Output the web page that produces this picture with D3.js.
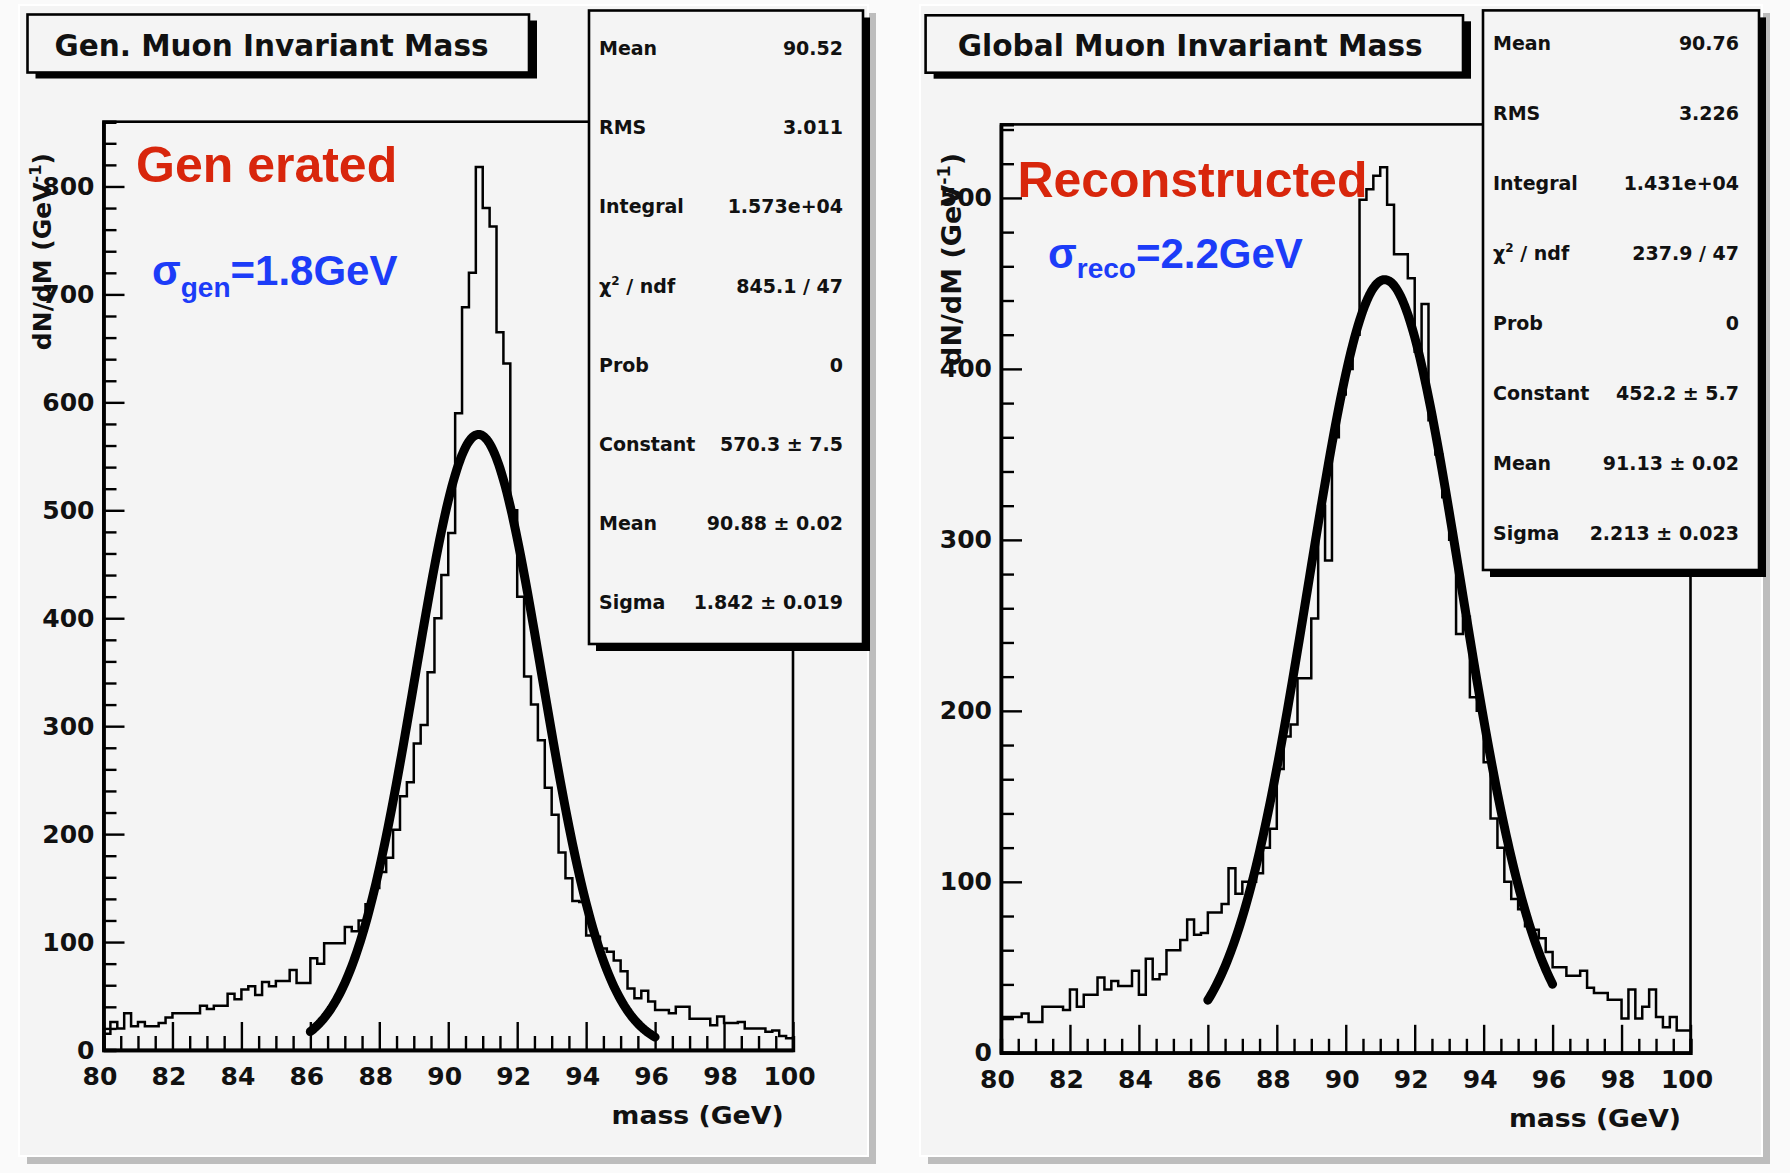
<!DOCTYPE html>
<html>
<head>
<meta charset="utf-8">
<script src="https://cdn.jsdelivr.net/npm/d3@7"></script>
<style>
  html, body { margin: 0; padding: 0; background: #fafafa; }
  svg { display: block; }
</style>
</head>
<body>
<svg id="canvas" width="1790" height="1173"></svg>
<script>
// ---- histogram binning (GeV) ----
const massRange = [80, 100];
const binWidth = 0.2;

// ---- generated dimuon invariant mass, counts per 0.2 GeV bin (80 -> 100 GeV) ----
const genCounts = [
  15, 26, 20, 34, 22, 26, 22, 22, 25, 30,
  34, 34, 34, 34, 41, 38, 41, 41, 52, 47,
  56, 59, 51, 63, 59, 64, 64, 74, 62, 62,
  85, 80, 99, 99, 99, 114, 110, 120, 135, 150,
  165, 178, 204, 235, 248, 284, 301, 350, 400, 440,
  479, 590, 688, 720, 818, 780, 763, 665, 636, 500,
  420, 346, 320, 287, 243, 218, 183, 159, 138, 137,
  106, 105, 94, 91, 83, 73, 57, 48, 55, 45,
  37, 37, 34, 40, 40, 29, 29, 29, 23, 31,
  25, 25, 26, 20, 20, 20, 17, 18, 13, 11
];

// ---- global (reconstructed) muon invariant mass, counts per 0.2 GeV bin ----
const recoCounts = [
  21, 21, 21, 23, 18, 18, 27, 27, 27, 25,
  37, 27, 34, 34, 44, 37, 42, 39, 39, 48,
  34, 55, 43, 46, 60, 60, 66, 78, 69, 70,
  82, 82, 87, 108, 93, 100, 100, 105, 120, 131,
  166, 185, 192, 219, 219, 254, 320, 288, 360, 385,
  400, 420, 499, 505, 513, 518, 496, 467, 467, 453,
  410, 438, 370, 350, 325, 300, 245, 255, 208, 200,
  170, 137, 120, 100, 90, 84, 74, 72, 67, 59,
  50, 50, 45, 45, 48, 38, 35, 35, 31, 31,
  20, 37, 20, 27, 37, 21, 15, 21, 13, 13
];

// ---- gaussian fit parameters [constant, mean, sigma] and fit window ----
const genFitParams = [570.3, 90.88, 1.842];
const recoFitParams = [452.2, 91.13, 2.213];
const fitRange = [86, 96];

// ---- axis tick labels ----
const massTicks = [80, 82, 84, 86, 88, 90, 92, 94, 96, 98, 100];
const genYTicks = [0, 100, 200, 300, 400, 500, 600, 700, 800];
const recoYTicks = [0, 100, 200, 300, 400, 500];
const genYMax = 860;
const recoYMax = 543;

// ---- statistics boxes ----
const statLabels = ["Mean", "RMS", "Integral", "chi2", "Prob", "Constant", "Mean", "Sigma"];
const genStatValues = ["90.52", "3.011", "1.573e+04", "845.1 / 47", "0", "570.3 \u00b1 7.5", "90.88 \u00b1 0.02", "1.842 \u00b1 0.019"];
const recoStatValues = ["90.76", "3.226", "1.431e+04", "237.9 / 47", "0", "452.2 \u00b1 5.7", "91.13 \u00b1 0.02", "2.213 \u00b1 0.023"];

// ---- titles and annotations ----
const titles = ["Gen. Muon Invariant Mass", "Global Muon Invariant Mass"];
const bigLabels = ["Gen erated", "Reconstructed"];
const sigmaSubs = ["gen", "reco"];
const sigmaValues = ["=1.8GeV", "=2.2GeV"];

const ROOT_FONT = "'DejaVu Sans', sans-serif";
const PPT_FONT = "'Liberation Sans', Arial, sans-serif";
const RED = "#d8260c";
const BLUE = "#1c3cf8";

const svg = d3.select("#canvas");

function drawPanel(p) {
  const g = svg.append("g");

  // pad with raised border
  g.append("rect").attr("x", p.pad[0] + 8).attr("y", p.pad[1] + 8)
    .attr("width", p.pad[2]).attr("height", p.pad[3]).attr("fill", "#bdbdbd");
  g.append("rect").attr("x", p.pad[0]).attr("y", p.pad[1])
    .attr("width", p.pad[2]).attr("height", p.pad[3]).attr("fill", "#f4f4f4")
    .attr("stroke", "#ffffff").attr("stroke-width", 2);

  const x = d3.scaleLinear().domain(massRange).range([p.frame[0], p.frame[1]]);
  const y = d3.scaleLinear().domain([0, p.yMax]).range([p.frame[3], p.frame[2]]);

  // frame
  g.append("rect").attr("x", p.frame[0]).attr("y", p.frame[2])
    .attr("width", p.frame[1] - p.frame[0]).attr("height", p.frame[3] - p.frame[2])
    .attr("fill", "#f4f4f4").attr("stroke", "#000").attr("stroke-width", 2.6);

  // histogram outline
  const pts = p.counts.map((c, i) => [massRange[0] + i * binWidth, c]);
  pts.push([massRange[1], p.counts[p.counts.length - 1]]);
  g.append("path")
    .attr("d", d3.line().x(d => x(d[0])).y(d => y(d[1])).curve(d3.curveStepAfter)(pts))
    .attr("fill", "none").attr("stroke", "#000").attr("stroke-width", 2.5);

  // gaussian fit curve
  const [C, mu, s] = p.fit;
  const fitPts = d3.range(fitRange[0], fitRange[1] + 1e-9, 0.05)
    .map(m => [m, C * Math.exp(-0.5 * ((m - mu) / s) ** 2)]);
  g.append("path")
    .attr("d", d3.line().x(d => x(d[0])).y(d => y(d[1]))(fitPts))
    .attr("fill", "none").attr("stroke", "#000").attr("stroke-width", 9)
    .attr("stroke-linejoin", "round").attr("stroke-linecap", "round");

  // x axis: major + minor ticks
  const xMinor = d3.range(80.5, 100, 0.5).filter(v => Math.abs(v % 2) > 1e-6);
  const gx = g.append("g").attr("transform", `translate(0,${p.frame[3]})`);
  gx.call(d3.axisBottom(x).tickValues(xMinor).tickSize(-14).tickFormat(""));
  gx.append("g").call(d3.axisBottom(x).tickValues(massTicks).tickSizeInner(-28).tickSizeOuter(0).tickPadding(17));
  // y axis
  const yMinor = d3.range(20, p.yMax, 20).filter(v => v % 100 !== 0);
  const gy = g.append("g").attr("transform", `translate(${p.frame[0]},0)`);
  gy.call(d3.axisLeft(y).tickValues(yMinor).tickSize(-13).tickFormat(""));
  gy.append("g").call(d3.axisLeft(y).tickValues(p.yTicks).tickSizeInner(-21).tickSizeOuter(0).tickPadding(9));

  g.selectAll(".domain").attr("stroke", "#000").attr("stroke-width", 3.4);
  g.selectAll(".tick line").attr("stroke", "#000").attr("stroke-width", 2.4);
  g.selectAll(".tick text").attr("fill", "#111").style("font-family", ROOT_FONT)
    .style("font-weight", "bold").style("font-size", "25px");
  gx.selectAll(".tick text").attr("dx", -4);

  // axis titles
  g.append("text").attr("x", p.xTitle[0]).attr("y", p.xTitle[1])
    .attr("text-anchor", "end").attr("textLength", 172).attr("lengthAdjust", "spacingAndGlyphs")
    .style("font-family", ROOT_FONT).style("font-weight", "bold").style("font-size", "25px")
    .attr("fill", "#111").text("mass (GeV)");

  const yt = g.append("text")
    .attr("transform", `translate(${p.yTitle[0]},${p.yTitle[1]}) rotate(-90)`)
    .attr("text-anchor", "end")
    .style("font-family", ROOT_FONT).style("font-weight", "bold").style("font-size", p.yTitle[2] + "px")
    .attr("fill", "#111");
  yt.append("tspan").text("dN/dM (GeV");
  yt.append("tspan").attr("dy", -p.yTitle[2] * 0.42).style("font-size", (p.yTitle[2] * 0.65) + "px").text("-1");
  yt.append("tspan").attr("dy", p.yTitle[2] * 0.42).text(")");

  // statistics box
  const sb = p.stats;
  g.append("rect").attr("x", sb[0] + 7).attr("y", sb[1] + 7).attr("width", sb[2]).attr("height", sb[3]).attr("fill", "#000");
  g.append("rect").attr("x", sb[0]).attr("y", sb[1]).attr("width", sb[2]).attr("height", sb[3])
    .attr("fill", "#f4f4f4").attr("stroke", "#000").attr("stroke-width", 2.6);
  const rowH = sb[3] / statLabels.length;
  statLabels.forEach((lab, i) => {
    const cy = sb[1] + rowH * (i + 0.5) + 5;
    const t = g.append("text").attr("x", sb[0] + 10).attr("y", cy)
      .style("font-family", ROOT_FONT).style("font-weight", "bold").style("font-size", "19px").attr("fill", "#111");
    if (lab === "chi2") {
      t.append("tspan").text("\u03c7");
      t.append("tspan").attr("dy", -8).style("font-size", "12px").text("2");
      t.append("tspan").attr("dy", 8).text(" / ndf");
    } else {
      t.text(lab);
    }
    g.append("text").attr("x", sb[0] + sb[2] - 20).attr("y", cy).attr("text-anchor", "end")
      .style("font-family", ROOT_FONT).style("font-weight", "bold").style("font-size", "19px").attr("fill", "#111")
      .text(p.statValues[i]);
  });

  // title box
  const tb = p.titleBox;
  g.append("rect").attr("x", tb[0] + 8).attr("y", tb[1] + 6).attr("width", tb[2]).attr("height", tb[3]).attr("fill", "#000");
  g.append("rect").attr("x", tb[0]).attr("y", tb[1]).attr("width", tb[2]).attr("height", tb[3])
    .attr("fill", "#f4f4f4").attr("stroke", "#000").attr("stroke-width", 2.6);
  g.append("text").attr("x", p.titleText[0]).attr("y", p.titleText[1])
    .attr("textLength", p.titleText[2]).attr("lengthAdjust", "spacingAndGlyphs")
    .style("font-family", ROOT_FONT).style("font-weight", "bold").style("font-size", "30px").attr("fill", "#111")
    .text(p.title);

  // annotations
  g.append("text").attr("x", p.big[0]).attr("y", p.big[1])
    .style("font-family", PPT_FONT).style("font-weight", "bold").style("font-size", "50px")
    .attr("fill", RED).text(p.bigLabel);
  const sg = g.append("text").attr("x", p.sig[0]).attr("y", p.sig[1])
    .style("font-family", PPT_FONT).style("font-weight", "bold").style("font-size", "42px").attr("fill", BLUE);
  sg.append("tspan").text("\u03c3");
  sg.append("tspan").attr("dy", p.sig[2]).style("font-size", "28px").text(p.sigmaSub);
  sg.append("tspan").attr("dy", -p.sig[2]).text(p.sigmaValue);
}

drawPanel({
  pad: [19, 5, 849, 1151],
  frame: [103.5, 793, 121.7, 1050],
  yMax: genYMax, yTicks: genYTicks,
  counts: genCounts, fit: genFitParams,
  stats: [589, 10.5, 274, 633.5], statValues: genStatValues,
  titleBox: [27.5, 14.5, 501.5, 58], titleText: [54.5, 56, 434], title: titles[0],
  xTitle: [783.6, 1124], yTitle: [51, 153, 25],
  big: [136, 182], bigLabel: bigLabels[0],
  sig: [152, 285, 11.5], sigmaSub: sigmaSubs[0], sigmaValue: sigmaValues[0]
});

drawPanel({
  pad: [920, 5, 842, 1151],
  frame: [1001, 1690.5, 124.4, 1052.8],
  yMax: recoYMax, yTicks: recoYTicks,
  counts: recoCounts, fit: recoFitParams,
  stats: [1483, 10.4, 276, 559.6], statValues: recoStatValues,
  titleBox: [925.6, 15.3, 537.4, 57.4], titleText: [957.7, 56, 465], title: titles[1],
  xTitle: [1681, 1127], yTitle: [961, 153, 27],
  big: [1017.4, 197], bigLabel: bigLabels[1],
  sig: [1048, 268, 9.5], sigmaSub: sigmaSubs[1], sigmaValue: sigmaValues[1]
});
</script>
</body>
</html>
